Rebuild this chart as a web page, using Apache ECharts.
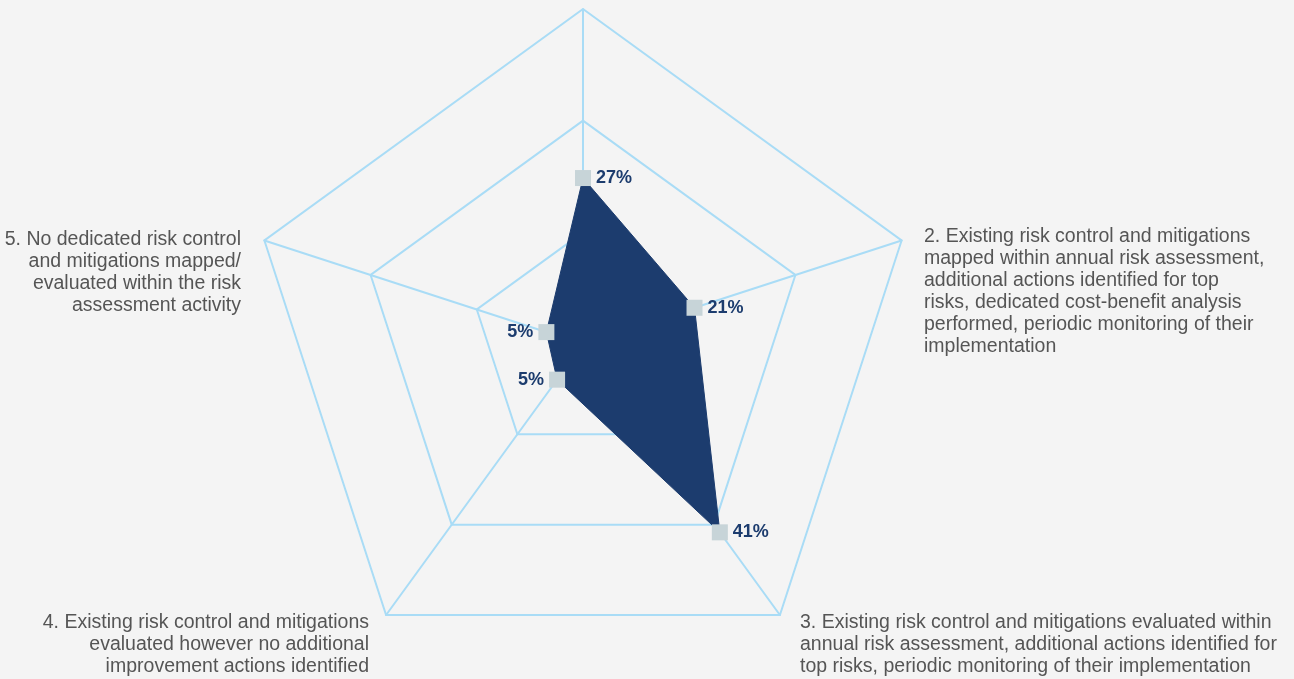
<!DOCTYPE html>
<html>
<head>
<meta charset="utf-8">
<script src="https://cdn.jsdelivr.net/npm/echarts@6/dist/echarts.min.js"></script>
<style>
html,body{margin:0;padding:0;background:#f4f4f4;}
#chart{width:1294px;height:679px;}
</style>
</head>
<body>
<div id="chart"></div>
<script>
// Axes in clockwise order starting at the top
const axisIds = ['1', '2', '3', '4', '5'];
const axisNames = [
  '',
  '2. Existing risk control and mitigations\nmapped within annual risk assessment,\nadditional actions identified for top\nrisks, dedicated cost-benefit analysis\nperformed, periodic monitoring of their\nimplementation',
  '3. Existing risk control and mitigations evaluated within\nannual risk assessment, additional actions identified for\ntop risks, periodic monitoring of their implementation',
  '4. Existing risk control and mitigations\nevaluated however no additional\nimprovement actions identified',
  '5. No dedicated risk control\nand mitigations mapped/\nevaluated within the risk\nassessment activity'
];
const values = [27, 21, 41, 5, 5];          // percent, clockwise from top
const labelSide = ['right', 'right', 'right', 'left', 'left'];
// the reference's (unlabelled) scale differs slightly per axis
const axisMaxes = [54.5, 60, 59, 38, 43.5];

// ECharts radar places indicators counter-clockwise; reorder
const order = [0, 4, 3, 2, 1];
const indicators = order.map(i => ({ name: axisIds[i], max: axisMaxes[i] }));
const seriesValues = order.map(i => values[i]);
const seriesLabelSides = order.map(i => labelSide[i]);

const chart = echarts.init(document.getElementById('chart'));
const lineColor = '#a9dcf6';
const navy = '#1c3c6e';
const nameFont = '19.5px "Liberation Sans", Arial, sans-serif';
const nameColor = '#555555';

function pctLabel(side) {
  return {
    show: true,
    position: side,
    distance: 5,
    fontFamily: '"Liberation Sans", Arial, sans-serif',
    fontWeight: 'bold',
    fontSize: 18,
    color: navy,
    formatter: p => {
      const d = p.dimensionIndex;
      return seriesLabelSides[d] === side ? p.value + '%' : '';
    }
  };
}

chart.setOption({
  backgroundColor: '#f4f4f4',
  animation: false,
  radar: {
    center: [583, 344],
    radius: 335,
    startAngle: 90,
    splitNumber: 3,
    shape: 'polygon',
    indicator: indicators,
    axisName: { show: false },
    axisLine: { lineStyle: { color: lineColor, width: 2 } },
    splitLine: { lineStyle: { color: lineColor, width: 2 } },
    splitArea: { show: false },
    axisTick: { show: false },
    axisLabel: { show: false }
  },
  series: [{
    type: 'radar',
    symbol: 'rect',
    symbolSize: 16,
    z: 2,
    itemStyle: { color: '#c7d4d8' },
    lineStyle: { color: navy, width: 1 },
    areaStyle: { color: navy, opacity: 1 },
    data: [{ value: seriesValues, label: pctLabel('right') }]
  }, {
    type: 'radar',
    symbol: 'rect',
    symbolSize: 16,
    z: 3,
    silent: true,
    itemStyle: { color: 'rgba(0,0,0,0)' },
    lineStyle: { width: 0, opacity: 0 },
    data: [{ value: seriesValues, label: pctLabel('left') }]
  }],
  graphic: [
    { type: 'text', x: 924, y: 226, style: { text: axisNames[1], font: nameFont, fill: nameColor, lineHeight: 22, align: 'left', verticalAlign: 'top' } },
    { type: 'text', x: 800, y: 612, style: { text: axisNames[2], font: nameFont, fill: nameColor, lineHeight: 22, align: 'left', verticalAlign: 'top' } },
    { type: 'text', x: 369, y: 612, style: { text: axisNames[3], font: nameFont, fill: nameColor, lineHeight: 22, align: 'right', verticalAlign: 'top' } },
    { type: 'text', x: 241, y: 229, style: { text: axisNames[4], font: nameFont, fill: nameColor, lineHeight: 22, align: 'right', verticalAlign: 'top' } }
  ]
});
</script>
</body>
</html>
